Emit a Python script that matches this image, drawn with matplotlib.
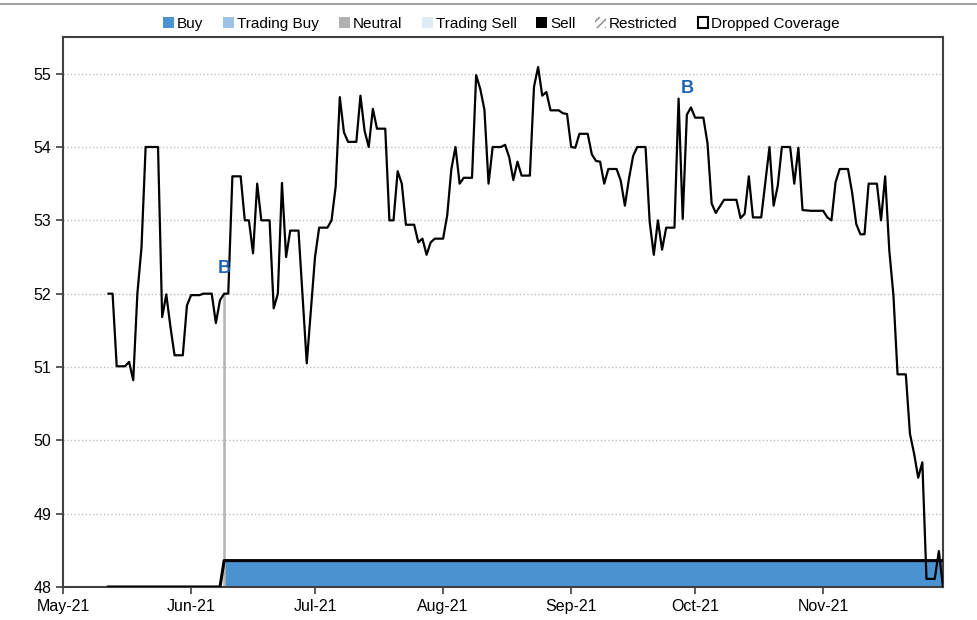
import numpy as np
import pandas as pd
import matplotlib
matplotlib.use('Agg')
from matplotlib import pyplot as plt
from matplotlib.patches import Patch
from matplotlib.lines import Line2D
import matplotlib.dates as mdates

YEAR = '2021-'

# prezzo (MM-DD)
price_dates = ['05-12', '05-13', '05-14', '05-16', '05-17', '05-18', '05-19', '05-20', '05-21', '05-24',
               '05-25', '05-26', '05-27', '05-28', '05-30', '05-31', '06-01', '06-03', '06-04', '06-06',
               '06-07', '06-08', '06-09', '06-10', '06-11', '06-13', '06-14', '06-15', '06-16', '06-17',
               '06-18', '06-20', '06-21', '06-22', '06-23', '06-24', '06-25', '06-27', '06-29', '07-01',
               '07-02', '07-04', '07-05', '07-06', '07-07', '07-08', '07-09', '07-11', '07-12', '07-13',
               '07-14', '07-15', '07-16', '07-18', '07-19', '07-20', '07-21', '07-22', '07-23', '07-25',
               '07-26', '07-27', '07-28', '07-29', '07-30', '08-01', '08-02', '08-03', '08-04', '08-05',
               '08-06', '08-08', '08-09', '08-10', '08-11', '08-12', '08-13', '08-15', '08-16', '08-17',
               '08-18', '08-19', '08-20', '08-22', '08-23', '08-24', '08-25', '08-26', '08-27', '08-29',
               '08-30', '08-31', '09-01', '09-02', '09-03', '09-05', '09-06', '09-07', '09-08', '09-09',
               '09-10', '09-12', '09-13', '09-14', '09-15', '09-16', '09-17', '09-19', '09-20', '09-21',
               '09-22', '09-23', '09-24', '09-26', '09-27', '09-28', '09-29', '09-30', '10-01', '10-03',
               '10-04', '10-05', '10-06', '10-08', '10-11', '10-12', '10-13', '10-14', '10-15', '10-17',
               '10-19', '10-20', '10-21', '10-22', '10-24', '10-25', '10-26', '10-27', '10-29', '11-01',
               '11-02', '11-03', '11-04', '11-05', '11-07', '11-08', '11-09', '11-10', '11-11', '11-12',
               '11-14', '11-15', '11-16', '11-17', '11-18', '11-19', '11-21', '11-22', '11-23', '11-24',
               '11-25', '11-26', '11-28', '11-29', '11-30']
price_values = [52.0, 52.0, 51.01, 51.01, 51.07, 50.82, 52.0, 52.63, 54.0, 54.0,
                51.68, 51.99, 51.55, 51.16, 51.16, 51.84, 51.98, 51.98, 52.0, 52.0,
                51.6, 51.91, 52.0, 52.0, 53.6, 53.6, 53.0, 53.0, 52.55, 53.5,
                53.0, 53.0, 51.8, 52.0, 53.51, 52.5, 52.86, 52.86, 51.05, 52.5,
                52.9, 52.9, 53.0, 53.46, 54.68, 54.2, 54.07, 54.07, 54.7, 54.22,
                54.0, 54.52, 54.25, 54.25, 53.0, 53.0, 53.67, 53.5, 52.94, 52.94,
                52.7, 52.75, 52.53, 52.7, 52.75, 52.75, 53.07, 53.7, 54.0, 53.5,
                53.58, 53.58, 54.98, 54.79, 54.51, 53.5, 54.0, 54.0, 54.03, 53.86,
                53.55, 53.8, 53.61, 53.61, 54.82, 55.09, 54.7, 54.75, 54.5, 54.5,
                54.46, 54.45, 54.0, 53.99, 54.18, 54.18, 53.9, 53.81, 53.8, 53.5,
                53.7, 53.7, 53.54, 53.2, 53.57, 53.88, 54.0, 54.0, 52.98, 52.53,
                53.0, 52.6, 52.9, 52.9, 54.66, 53.02, 54.44, 54.54, 54.4, 54.4,
                54.05, 53.23, 53.1, 53.28, 53.28, 53.03, 53.09, 53.6, 53.04, 53.04,
                54.0, 53.2, 53.47, 54.0, 54.0, 53.5, 53.99, 53.14, 53.13, 53.13,
                53.04, 53.0, 53.52, 53.7, 53.7, 53.38, 52.95, 52.81, 52.81, 53.5,
                53.5, 53.0, 53.6, 52.59, 51.98, 50.9, 50.9, 50.09, 49.82, 49.49,
                49.7, 48.11, 48.11, 48.49, 48.0]

# banda del rating (Buy)
rating_dates = ['05-12', '06-08', '06-09', '11-30']
rating_level = [48.0, 48.0, 48.36, 48.36]
buy_dates = ['06-09', '11-30']
buy_top = 48.36
base_level = 48.0

# cambi di rating / etichette B
change_date = '06-09'
b_dates = ['06-09', '09-29']
b_values = [52.34, 54.8]

legend_labels = ['Buy', 'Trading Buy', 'Neutral', 'Trading Sell', 'Sell', 'Restricted', 'Dropped Coverage']
legend_colors = ['#4A92D0', '#9DC3E6', '#B0B0B0', '#DDEBF7', '#000000', '#FFFFFF', '#FFFFFF']

plt.rcParams['font.family'] = ['Liberation Sans', 'DejaVu Sans']

to_dt = lambda lst: pd.to_datetime([YEAR + d for d in lst])

fig = plt.figure(figsize=(9.78, 6.2), dpi=100)
ax = fig.add_axes([63 / 978, 1 - 587 / 620, 880 / 978, 550 / 620])

# area Buy
bd = to_dt(buy_dates)
ax.fill_between(bd, base_level, buy_top, color=legend_colors[0], linewidth=0, zorder=2)
ax.plot(to_dt(rating_dates), rating_level, color='black', linewidth=2.2, zorder=3)

# linea verticale al cambio di rating
cd = pd.to_datetime(YEAR + change_date)
p_at_change = price_values[price_dates.index(change_date)]
ax.plot([cd, cd], [base_level, p_at_change], color='#B4B4B4', linewidth=1.8, zorder=2)

# prezzo
ax.plot(to_dt(price_dates), price_values, color='black', linewidth=1.6, zorder=4)

for d, v in zip(to_dt(b_dates), b_values):
    ax.text(d, v, 'B', color='#1F64B4', fontsize=13, fontweight='bold', ha='center', va='center', zorder=5)

ax.set_xlim(pd.Timestamp('2021-05-01'), pd.Timestamp('2021-11-30'))
ax.set_ylim(48, 55.5)
ax.set_yticks(np.arange(48, 56, 1))
ax.xaxis.set_major_locator(mdates.MonthLocator())
ax.xaxis.set_major_formatter(mdates.DateFormatter('%b-%y'))
ax.grid(axis='y', color='#BFBFBF', linestyle=':', linewidth=1.0, zorder=0)
ax.set_axisbelow(True)
ax.tick_params(axis='both', labelsize=11.5, direction='out', length=5, color='#404040', width=1.2)
for s in ax.spines.values():
    s.set_color('#404040')
    s.set_linewidth(1.5)

# legenda in alto
handles = [Patch(facecolor=c, edgecolor='none') for c in legend_colors[:5]]
handles.append(Patch(facecolor='white', edgecolor='#888888', hatch='////', linewidth=0))
handles.append(Patch(facecolor='white', edgecolor='black', linewidth=1.5))
fig.legend(handles, legend_labels, loc='center', bbox_to_anchor=(0.513, 0.961), ncol=7, frameon=False,
           fontsize=11, handlelength=0.7, handleheight=0.7, handletextpad=0.2, columnspacing=1.3)

fig.add_artist(Line2D([0, 1], [0.994, 0.994], color='#909090', linewidth=1.2))

plt.savefig('out.png', dpi=100)
